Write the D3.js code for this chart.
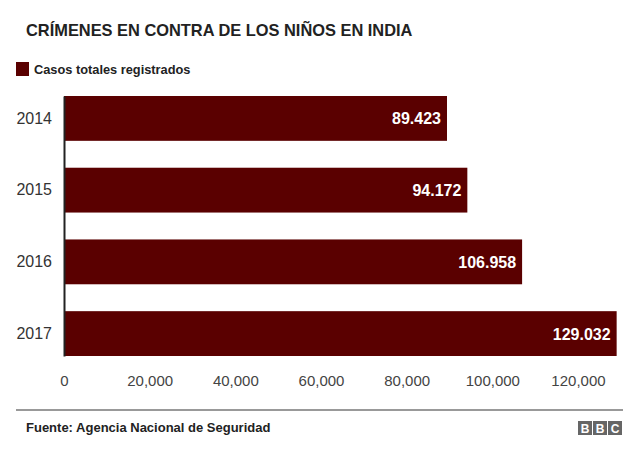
<!DOCTYPE html>
<html>
<head>
<meta charset="utf-8">
<script src="https://cdn.jsdelivr.net/npm/d3@7"></script>
<style>
  body { margin: 0; background: #fff; }
  text { font-family: "Liberation Sans", Arial, sans-serif; }
</style>
</head>
<body>
<div id="wrapper"></div>
<script>
const years = ["2014", "2015", "2016", "2017"];
const casos = [89423, 94172, 106958, 129032];
const casosLabels = ["89.423", "94.172", "106.958", "129.032"];
const xTicks = [0, 20000, 40000, 60000, 80000, 100000, 120000];
const xTickLabels = ["0", "20,000", "40,000", "60,000", "80,000", "100,000", "120,000"];

const dataset = years.map((y, i) => ({ year: y, value: casos[i], label: casosLabels[i] }));

const width = 640;
const height = 457;
const barColor = "#5a0000";

const svg = d3.select("#wrapper").append("svg")
	.attr("width", width)
	.attr("height", height);

// title
svg.append("text")
	.attr("x", 26)
	.attr("y", 36)
	.attr("font-size", "16.4px")
	.attr("font-weight", "bold")
	.attr("fill", "#222")
	.text("CRÍMENES EN CONTRA DE LOS NIÑOS EN INDIA");

// legend
svg.append("rect")
	.attr("x", 16).attr("y", 62)
	.attr("width", 13).attr("height", 14)
	.attr("fill", barColor);
svg.append("text")
	.attr("x", 34).attr("y", 74)
	.attr("font-size", "12.8px")
	.attr("font-weight", "bold")
	.attr("fill", "#222")
	.text("Casos totales registrados");

const xScale = d3.scaleLinear()
	.domain([0, 130000])
	.range([64, 64 + 130000 * 0.004283]);

const yScale = d3.scaleBand()
	.domain(years)
	.range([96, 356])
	.paddingInner(0.375)
	.paddingOuter(0);

// bars
svg.append("g").selectAll("rect")
	.data(dataset)
	.join("rect")
	.attr("x", xScale(0))
	.attr("y", d => yScale(d.year))
	.attr("width", d => xScale(d.value) - xScale(0))
	.attr("height", yScale.bandwidth())
	.attr("fill", barColor);

// value labels
svg.append("g").selectAll("text")
	.data(dataset)
	.join("text")
	.attr("x", d => xScale(d.value) - 6)
	.attr("y", d => yScale(d.year) + yScale.bandwidth() / 2 + 6)
	.attr("text-anchor", "end")
	.attr("font-size", "16px")
	.attr("font-weight", "bold")
	.attr("fill", "#fff")
	.text(d => d.label);

// y axis
const yAxis = svg.append("g")
	.attr("transform", `translate(${xScale(0)},0)`)
	.call(d3.axisLeft(yScale).tickSize(0).tickPadding(12));
yAxis.select(".domain").attr("stroke", "#222").attr("stroke-width", 2);
yAxis.selectAll("text")
	.attr("font-size", "16px")
	.attr("fill", "#333")
	.attr("font-family", "Liberation Sans, Arial, sans-serif");

// x axis
const xAxis = svg.append("g")
	.attr("transform", "translate(0,370)")
	.call(d3.axisBottom(xScale).tickValues(xTicks).tickSize(0).tickPadding(5)
		.tickFormat((d, i) => xTickLabels[i]));
xAxis.select(".domain").remove();
xAxis.selectAll("text")
	.attr("font-size", "15px")
	.attr("fill", "#444")
	.attr("font-family", "Liberation Sans, Arial, sans-serif");

// footer
svg.append("line")
	.attr("x1", 16).attr("x2", 623)
	.attr("y1", 410).attr("y2", 410)
	.attr("stroke", "#777").attr("stroke-width", 1.5);
svg.append("text")
	.attr("x", 26).attr("y", 432)
	.attr("font-size", "13px")
	.attr("font-weight", "bold")
	.attr("fill", "#222")
	.text("Fuente: Agencia Nacional de Seguridad");

const bbc = svg.append("g").attr("transform", "translate(578,421)");
["B", "B", "C"].forEach((l, i) => {
	bbc.append("rect")
		.attr("x", i * 15).attr("y", 0)
		.attr("width", 14).attr("height", 14)
		.attr("fill", "#666");
	bbc.append("text")
		.attr("x", i * 15 + 7).attr("y", 11.5)
		.attr("text-anchor", "middle")
		.attr("font-size", "12px")
		.attr("font-weight", "bold")
		.attr("fill", "#fff")
		.text(l);
});
</script>
</body>
</html>
